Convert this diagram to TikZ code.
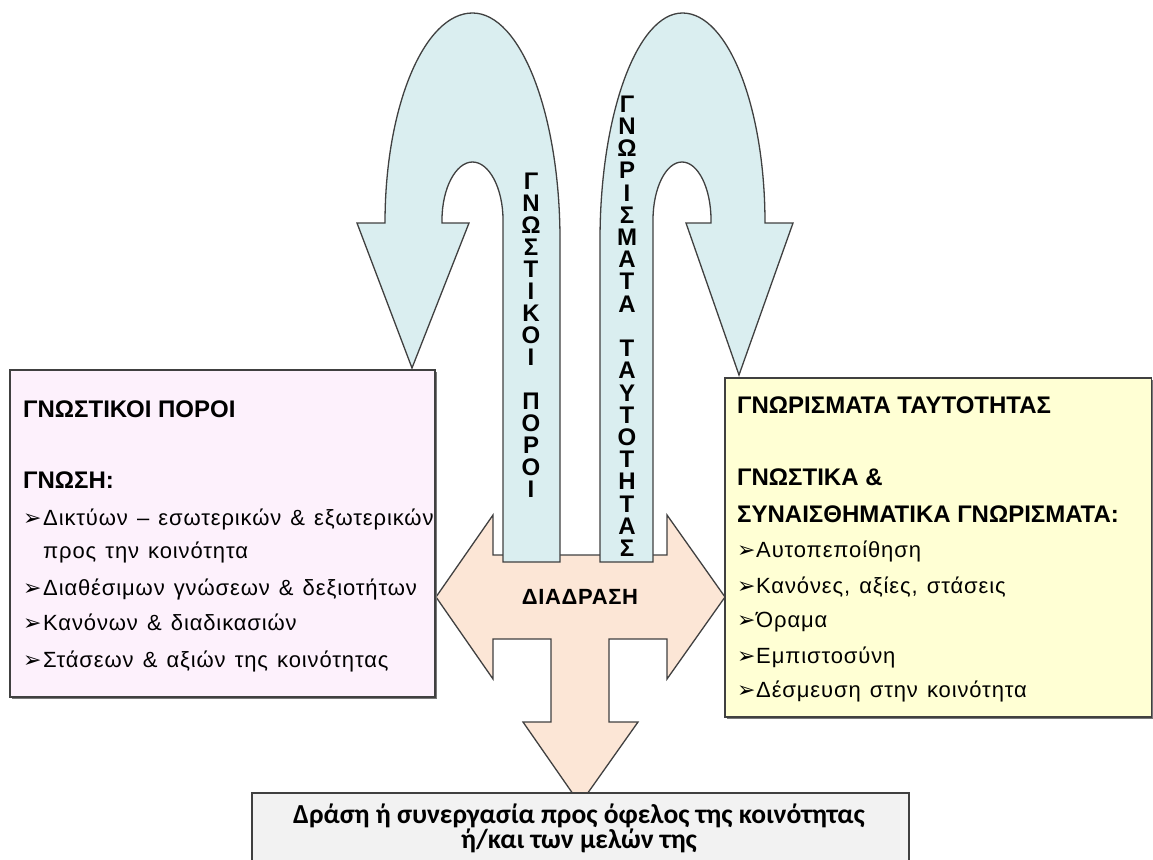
\documentclass[tikz,border=0pt]{standalone}
\usepackage{fontspec}
\setmainfont{Liberation Sans}
\newfontfamily\bodyfont[LetterSpace=4,WordSpace=1.3]{Liberation Sans}
\newfontfamily\bulletfont{DejaVu Sans}
\newfontfamily\captionfont{Carlito}

\definecolor{edgegray}{RGB}{64,64,64}
\definecolor{shadegray}{RGB}{120,120,120}
\definecolor{ublue}{RGB}{218,238,240}
\definecolor{peach}{RGB}{252,230,214}
\definecolor{pinkbox}{RGB}{253,241,252}
\definecolor{yellowbox}{RGB}{255,255,212}
\definecolor{greybox}{RGB}{242,242,242}

\newcommand\arrbullet[1]{\makebox[#1][l]{\bulletfont\fontsize{22}{22}\selectfont ➢}}

\begin{document}
\begin{tikzpicture}[x=1pt,y=-1pt,
  edge/.style={draw=edgegray, line width=1.3pt, line join=miter},
  txt/.style={anchor=base west, inner sep=0pt, font=\bodyfont\fontsize{22}{26}\selectfont},
  hdr/.style={anchor=base west, inner sep=0pt, font=\fontsize{24}{28}\selectfont\bfseries},
  vletter/.style={inner sep=0pt, font=\fontsize{24}{24}\selectfont\bfseries},
  caption/.style={anchor=base, inner sep=0pt, font=\captionfont\fontsize{27.5}{28}\selectfont\bfseries}]
\clip (0,0) rectangle (1153,859);

% interaction arrow: left, right and down
\path[edge, fill=peach] (436,597) -- (493,515) -- (493,555) -- (667,555) -- (667,515)
  -- (725,597) -- (667,679) -- (667,639) -- (609,639) -- (609,722) -- (638,722)
  -- (580,804) -- (523,722) -- (551,722) -- (551,639) -- (493,639) -- (493,679) -- cycle;

% left U-turn arrow
\path[edge, fill=ublue] (560,562) -- (503,562) -- (503,220)
  .. controls (503,188) and (489,162) .. (472.5,162)
  .. controls (456,162) and (442,188) .. (442,220)
  -- (442,223) -- (469,223) -- (412,368) -- (357,223) -- (385,223)
  .. controls (385,107) and (424,13) .. (472.5,13)
  .. controls (521,13) and (560,115) .. (560,240) -- cycle;

% right U-turn arrow
\path[edge, fill=ublue] (600,562) -- (600,240)
  .. controls (600,115) and (637,13) .. (682.5,13)
  .. controls (728,13) and (765,107) .. (765,223)
  -- (793,223) -- (739,375) -- (686,223) -- (711,223) -- (711,220)
  .. controls (711,188) and (698,162) .. (682,162)
  .. controls (666,162) and (653,188) .. (653,220) -- (653,562) -- cycle;

% vertical labels in the arrow legs
\foreach \ch [count=\i from 0] in {Γ,Ν,Ω,Σ,Τ,Ι,Κ,Ο,Ι}
  \node[vletter] (gpa\i) at (531,{181+22*\i}) {\ch};
\foreach \ch [count=\i from 0] in {Π,Ο,Ρ,Ο,Ι}
  \node[vletter] (gpb\i) at (531,{401+22*\i}) {\ch};
\foreach \ch [count=\i from 0] in {Γ,Ν,Ω,Ρ,Ι,Σ,Μ,Α,Τ,Α}
  \node[vletter] (gta\i) at (627,{104+22.2*\i}) {\ch};
\foreach \ch [count=\i from 0] in {Τ,Α,Υ,Τ,Ο,Τ,Η,Τ,Α,Σ}
  \node[vletter] (gtb\i) at (627,{348.4+22.2*\i}) {\ch};

\node[font=\fontsize{22}{26}\selectfont\bfseries\addfontfeature{LetterSpace=3}, inner sep=0pt] (inter) at (580,597) {ΔΙΑΔΡΑΣΗ};

% left box
\fill[shadegray] (12,372) rectangle (437,699);
\path[edge, fill=pinkbox] (10,370) rectangle (435,697);
\node[hdr] (lh1) at (23,417) {ΓΝΩΣΤΙΚΟΙ ΠΟΡΟΙ};
\node[hdr] (lh2) at (23,488) {ΓΝΩΣΗ:};
\node[txt] (l1) at (23,525) {\arrbullet{20pt}Δικτύων – εσωτερικών \& εξωτερικών};
\node[txt] (l1b) at (43,558) {προς την κοινότητα};
\node[txt] (l2) at (23,595) {\arrbullet{20pt}Διαθέσιμων γνώσεων \& δεξιοτήτων};
\node[txt] (l3) at (23,630) {\arrbullet{20pt}Κανόνων \& διαδικασιών};
\node[txt] (l4) at (23,667) {\arrbullet{20pt}Στάσεων \& αξιών της κοινότητας};

% right box
\fill[shadegray] (727,380) rectangle (1153,719);
\path[edge, fill=yellowbox] (725,378) rectangle (1151.5,717);
\node[hdr] (rh1) at (737,413) {ΓΝΩΡΙΣΜΑΤΑ ΤΑΥΤΟΤΗΤΑΣ};
\node[hdr] (rh2) at (737,485) {ΓΝΩΣΤΙΚΑ \&};
\node[hdr] (rh3) at (737,522) {ΣΥΝΑΙΣΘΗΜΑΤΙΚΑ ΓΝΩΡΙΣΜΑΤΑ:};
\node[txt] (r1) at (737,557) {\arrbullet{19pt}Αυτοπεποίθηση};
\node[txt] (r2) at (737,593) {\arrbullet{19pt}Κανόνες, αξίες, στάσεις};
\node[txt] (r3) at (737,627) {\arrbullet{19pt}Όραμα};
\node[txt] (r4) at (737,663) {\arrbullet{19pt}Εμπιστοσύνη};
\node[txt] (r5) at (737,697) {\arrbullet{19pt}Δέσμευση στην κοινότητα};

% bottom box
\path[edge, fill=greybox] (252,793) rectangle (909,890);
\node[caption] (act1) at (579,823) {Δράση ή συνεργασία προς όφελος της κοινότητας};
\node[caption] (act2) at (579,848) {ή/και των μελών της};
\end{tikzpicture}
\end{document}
